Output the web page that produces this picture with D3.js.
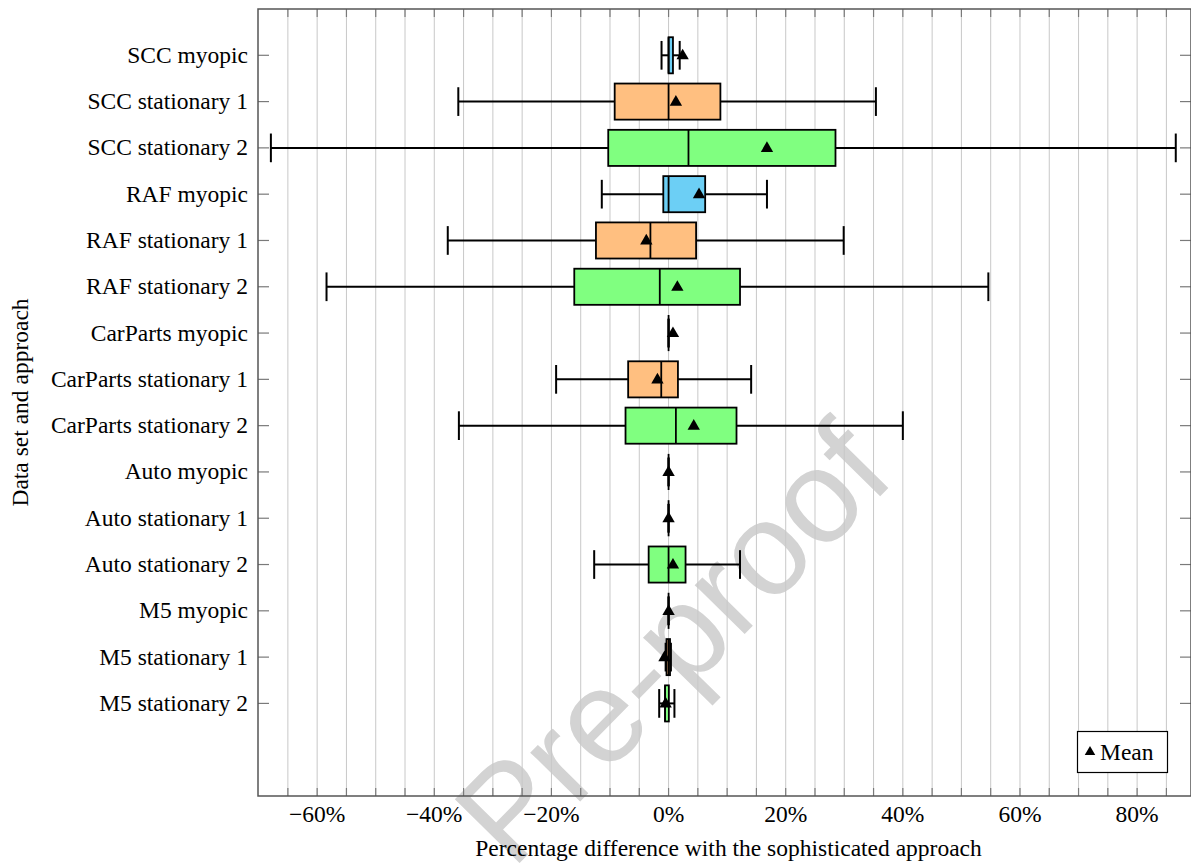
<!DOCTYPE html>
<html>
<head>
<meta charset="utf-8">
<script src="https://cdn.jsdelivr.net/npm/d3@7/dist/d3.min.js"></script>
<style>
  html, body { margin: 0; padding: 0; background: #fff; }
  svg { display: block; }
  text { font-family: "Liberation Serif", "Times New Roman", serif; fill: #000; }
</style>
</head>
<body>
<svg id="chart" width="1191" height="864"></svg>
<script>
// Data set / approach combinations, top to bottom
const categories = [
  "SCC myopic", "SCC stationary 1", "SCC stationary 2",
  "RAF myopic", "RAF stationary 1", "RAF stationary 2",
  "CarParts myopic", "CarParts stationary 1", "CarParts stationary 2",
  "Auto myopic", "Auto stationary 1", "Auto stationary 2",
  "M5 myopic", "M5 stationary 1", "M5 stationary 2"
];
// Approach of each row (selects the box fill)
const approaches = [
  "myopic", "stationary 1", "stationary 2",
  "myopic", "stationary 1", "stationary 2",
  "myopic", "stationary 1", "stationary 2",
  "myopic", "stationary 1", "stationary 2",
  "myopic", "stationary 1", "stationary 2"
];
// Box-plot statistics, percentage difference with the sophisticated approach
const lowerWhisker  = [-1.2, -35.9, -67.9, -11.4, -37.7, -58.4, 0, -19.2, -35.8, 0, 0, -12.7, 0, -0.5, -1.6];
const lowerQuartile = [0.0,  -9.2, -10.3,  -0.9, -12.4, -16.1, 0,  -6.9,  -7.35, 0, 0,  -3.4, 0, -0.35, -0.6];
const medians       = [0.0,   0.0,   3.4,   0.0,  -3.1,  -1.5, 0,  -1.25,  1.25, 0, 0,   0.0, 0, 0.0, -0.6];
const upperQuartile = [0.75,  8.85, 28.5,   6.25,  4.7,  12.2, 0,   1.6,  11.6,  0, 0,   2.9, 0, 0.25, 0.05];
const upperWhisker  = [1.9,  35.4,  86.6,  16.8,  29.9,  54.6, 0,  14.1,  40.0,  0, 0,  12.2, 0, 0.4,  1.0];
const means         = [2.4,   1.25, 16.8,   5.2,  -3.8,   1.5, 0.75, -1.9, 4.3,  0, 0,   0.75, 0, -0.7, -0.5];

const xTickValues = [-60, -40, -20, 0, 20, 40, 60, 80];
const xGridValues = d3.range(-65, 86, 5);

const fills = { "myopic": "#6ccff5", "stationary 1": "#ffbf80", "stationary 2": "#80ff80" };

const svg = d3.select("#chart");
const plotLeft = 258, plotRight = 1191, plotTop = 9, plotBottom = 796;
const fontSize = "23.5px";

const x = d3.scaleLinear().domain([-70.1, 89.2]).range([plotLeft, plotRight]);
const y = d3.scaleLinear().domain([-1, 16]).range([plotTop, plotBottom]);
const unit = y(1) - y(0);
const boxH = 0.78 * unit;
const capH = 0.62 * unit;

const rows = categories.map((c, i) => ({
  name: c, i, approach: approaches[i],
  lw: lowerWhisker[i], q1: lowerQuartile[i], med: medians[i],
  q3: upperQuartile[i], uw: upperWhisker[i], mean: means[i]
}));

// Watermark, underneath the plot
svg.append("text")
  .attr("transform", `translate(680,650) rotate(-45.5)`)
  .attr("text-anchor", "middle")
  .attr("dominant-baseline", "middle")
  .style("font-family", "'Liberation Sans', Arial, sans-serif")
  .style("font-size", "132px")
  .style("fill", "#d3d3d3")
  .text("Pre-proof");

// Vertical grid lines
svg.append("g").selectAll("line").data(xGridValues).join("line")
  .attr("x1", d => x(d)).attr("x2", d => x(d))
  .attr("y1", plotTop).attr("y2", plotBottom)
  .attr("stroke", "#c8c8c8").attr("stroke-width", 1);

// Tick marks on the bottom and top edges
const tickG = svg.append("g").attr("stroke", "#7a7a7a").attr("stroke-width", 1.2);
tickG.selectAll("line.b").data(xGridValues).join("line").attr("class", "b")
  .attr("x1", d => x(d)).attr("x2", d => x(d)).attr("y1", plotBottom).attr("y2", plotBottom - 8);
tickG.selectAll("line.t").data(xGridValues).join("line").attr("class", "t")
  .attr("x1", d => x(d)).attr("x2", d => x(d)).attr("y1", plotTop).attr("y2", plotTop + 8);
// Category ticks on the left and right edges
tickG.selectAll("line.l").data(rows).join("line").attr("class", "l")
  .attr("x1", plotLeft).attr("x2", plotLeft + 11).attr("y1", d => y(d.i)).attr("y2", d => y(d.i));
tickG.selectAll("line.r").data(rows).join("line").attr("class", "r")
  .attr("x1", plotRight).attr("x2", plotRight - 11).attr("y1", d => y(d.i)).attr("y2", d => y(d.i));

// Boxes
const g = svg.append("g");
const row = g.selectAll("g.row").data(rows).join("g").attr("class", "row");

// whiskers
row.append("line")
  .attr("x1", d => x(d.lw)).attr("x2", d => x(d.q1))
  .attr("y1", d => y(d.i)).attr("y2", d => y(d.i))
  .attr("stroke", "#000").attr("stroke-width", 2);
row.append("line")
  .attr("x1", d => x(d.q3)).attr("x2", d => x(d.uw))
  .attr("y1", d => y(d.i)).attr("y2", d => y(d.i))
  .attr("stroke", "#000").attr("stroke-width", 2);
row.append("line")
  .attr("x1", d => x(d.lw)).attr("x2", d => x(d.lw))
  .attr("y1", d => y(d.i) - capH / 2).attr("y2", d => y(d.i) + capH / 2)
  .attr("stroke", "#000").attr("stroke-width", 2);
row.append("line")
  .attr("x1", d => x(d.uw)).attr("x2", d => x(d.uw))
  .attr("y1", d => y(d.i) - capH / 2).attr("y2", d => y(d.i) + capH / 2)
  .attr("stroke", "#000").attr("stroke-width", 2);
// interquartile box
row.append("rect")
  .attr("x", d => x(d.q1)).attr("width", d => x(d.q3) - x(d.q1))
  .attr("y", d => y(d.i) - boxH / 2).attr("height", boxH)
  .attr("fill", d => fills[d.approach])
  .attr("stroke", "#000").attr("stroke-width", 1.8);
// median
row.append("line")
  .attr("x1", d => x(d.med)).attr("x2", d => x(d.med))
  .attr("y1", d => y(d.i) - boxH / 2).attr("y2", d => y(d.i) + boxH / 2)
  .attr("stroke", "#000").attr("stroke-width", 1.8);
// mean marker
const tri = d3.symbol().type(d3.symbolTriangle).size(66);
row.append("path")
  .attr("d", tri)
  .attr("transform", d => `translate(${x(d.mean)},${y(d.i) + 0.5})`)
  .attr("fill", "#000");

// Frame
svg.append("rect")
  .attr("x", plotLeft).attr("y", plotTop).attr("width", plotRight - plotLeft).attr("height", plotBottom - plotTop)
  .attr("fill", "none").attr("stroke", "#555").attr("stroke-width", 1.5);

// Category labels
svg.append("g").selectAll("text").data(rows).join("text")
  .attr("x", 248).attr("y", d => y(d.i) + 7.5)
  .attr("text-anchor", "end")
  .style("font-size", fontSize)
  .text(d => d.name);

// X tick labels
svg.append("g").selectAll("text").data(xTickValues).join("text")
  .attr("x", d => x(d)).attr("y", 822)
  .attr("text-anchor", "middle")
  .style("font-size", fontSize)
  .text(d => (d < 0 ? "\u2212" + Math.abs(d) : d) + "%");

// Axis titles
svg.append("text")
  .attr("x", (plotLeft + plotRight) / 2 + 4).attr("y", 856)
  .attr("text-anchor", "middle")
  .style("font-size", fontSize)
  .text("Percentage difference with the sophisticated approach");
svg.append("text")
  .attr("transform", `translate(28,${(plotTop + plotBottom) / 2}) rotate(-90)`)
  .attr("text-anchor", "middle")
  .style("font-size", fontSize)
  .text("Data set and approach");

// Legend
const lg = svg.append("g");
lg.append("rect").attr("x", 1077.5).attr("y", 731.5).attr("width", 90).attr("height", 41)
  .attr("fill", "#fff").attr("stroke", "#000").attr("stroke-width", 1.2);
lg.append("path").attr("d", d3.symbol().type(d3.symbolTriangle).size(48))
  .attr("transform", "translate(1090,752)").attr("fill", "#000");
lg.append("text").attr("x", 1100).attr("y", 760).style("font-size", fontSize).text("Mean");
</script>
</body>
</html>
